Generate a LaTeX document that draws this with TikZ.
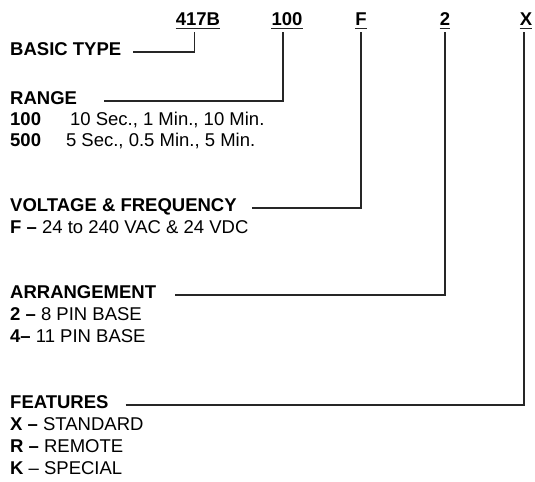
\documentclass[tikz,border=0pt]{standalone}
\usepackage{fontspec}
\setmainfont{Liberation Sans}
\usepackage{tikz}
\newcommand\labelsize{\fontsize{18.5bp}{22bp}\selectfont}

\tikzset{
  ul/.style={line width=1.3bp, draw=black!85},
  code/.style={font=\labelsize\bfseries, inner sep=0pt, anchor=base, text depth=0pt,
    append after command={([yshift=-2.5bp]\tikzlastnode.south west) edge[ul] ([yshift=-2.5bp]\tikzlastnode.south east)}},
  head/.style={font=\labelsize\bfseries, inner sep=0pt, anchor=west, text height=1.38ex, text depth=0pt},
  item/.style={font=\labelsize, inner sep=0pt, anchor=west, text height=1.38ex, text depth=0pt},
  lead/.style={draw=black!85, line width=1.1bp},
}

\begin{document}
\begin{tikzpicture}[x=1bp, y=-1bp]
  \useasboundingbox (0,0) rectangle (535,482);

  % model code
  \foreach \n/\t/\x in {tb/417B/198, rg/100/287, vf/F/361, ar/2/445, ft/X/526}{
    \node[code] (c\n) at (\x,26) {\t};
  }

  % fields
  \node[head] (basic) at (10,52) {BASIC TYPE};

  \node[head] (range) at (10,101) {RANGE};
  \node[item] (r100) at (10,122) {\textbf{100}\hspace{29bp}10 Sec., 1 Min., 10 Min.};
  \node[item] (r500) at (10,143) {\textbf{500}\hspace{25bp}5 Sec., 0.5 Min., 5 Min.};

  \node[head] (volt) at (10,208) {VOLTAGE \& FREQUENCY};
  \node[item] (vf1) at (10,230) {\textbf{F –} 24 to 240 VAC \& 24 VDC};

  \node[head] (arr) at (10,295) {ARRANGEMENT};
  \node[item] (a2) at (10,317) {\textbf{2 –} 8 PIN BASE};
  \node[item] (a4) at (10,339) {\textbf{4–} 11 PIN BASE};

  \node[head] (feat) at (10,405) {FEATURES};
  \node[item] (fx) at (10,427) {\textbf{X –} STANDARD};
  \node[item] (fr) at (10,449) {\textbf{R –} REMOTE};
  \node[item] (fk) at (10,471) {\textbf{K} – SPECIAL};

  % leaders
  \draw[lead, shorten <=12bp, shorten >=6bp] (basic.east) -| ([xshift=-3.5bp]ctb.south);
  \draw[lead, shorten <=27bp, shorten >=6bp] (range.east) -| ([xshift=-4bp]crg.south);
  \draw[lead, shorten <=15bp, shorten >=6bp] (volt.east) -| (cvf.south);
  \draw[lead, shorten <=19bp, shorten >=6bp] (arr.east) -| (car.south);
  \draw[lead, shorten <=17bp, shorten >=6bp] (feat.east) -| ([xshift=-2bp]cft.south);
\end{tikzpicture}
\end{document}
